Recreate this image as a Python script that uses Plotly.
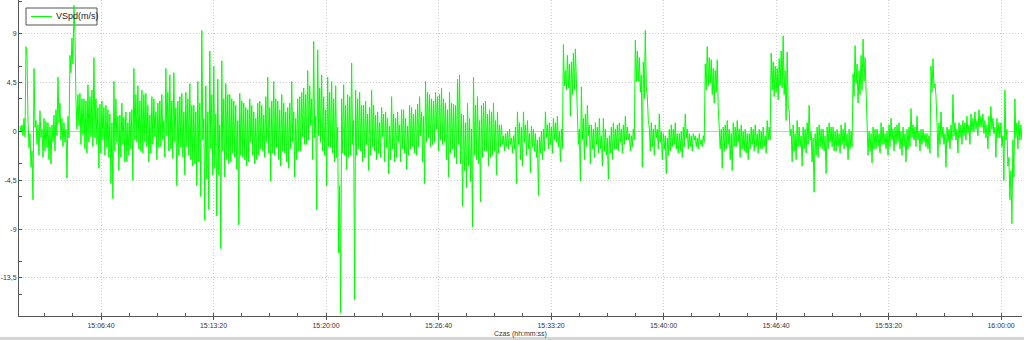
import pandas as pd
import plotly.graph_objects as go

# ---------------- data ----------------
# The trace is very dense, so for every ~2 px column of the original chart the
# local upper (hi) and lower (lo) excursion of the signal is recorded.
t_start = "2024-01-01 15:01:52"
t_end = "2024-01-01 16:01:14"

hi_a = [0.5, 0.6, 1.2, 7.8, 1.0, -0.2, -1.8, 5.8, 1.0, 0.6, 1.9, 0.2, 1.2, 0.9, 0.8, 0.4, 0.6,
        1.5, 2.0, 5.0, 2.6, 1.2, 0.8, 0.2, 1.4, 7.0, 8.6, 11.6, 3.0,
        3.4, 3.5, 3.0, 3.0, 2.8, 4.3, 3.2, 3.8, 6.8, 3.0,
        2.2, 2.5, 2.8, 2.2, 2.4, 2.0, 1.6, 0.8, 4.6, 3.0,
        1.4, 1.5, 2.6, 1.3, 1.8, 0.8, 1.8, 2.0, 5.8, 3.4,
        4.2, 2.8, 3.8, 3.4, 3.5, 2.4, 1.5, 3.2, 3.0, 1.8,
        2.6, 2.8, 3.4, 1.0, 5.8, 3.6, 5.2, 2.8, 5.4, 2.2,
        2.8, 3.2, 3.5, 1.8, 3.6, 3.0, 4.4, 2.4, 2.4, 1.8,
        4.6, 2.6, 9.3, 1.2, 4.2, 1.8, 7.4, 3.4, 6.0, 1.6,
        4.8, 0.6, 6.5, 3.0, 4.4, 3.4, 3.4, 3.0, 2.8, 2.4,
        1.0, 3.5, 2.8, 2.6, 2.2, 2.0, 3.0, 2.4, 1.8, 1.2,
        2.6, 2.8, 2.4, 1.5, 3.2, 5.0, 2.2]
lo_a = [0, -0.4, -0.5, 6.9, -1.5, -3.3, -6.3, 0.4, -1.2, -2.2, -0.6, -2.4, -1.8, -1.5, -2.6,
        -3.0, -1.0, -1.8, -0.4, 0.8, -0.8, -1.4, -1.0, -4.3, -0.6, 5.4, 6.2, 9.0, 0.2,
        0.5, -1.2, -0.3, -1.6, -2.0, -1.0, -0.5, -1.4, -0.6, -1.2,
        -3.4, -2.0, -0.8, -2.2, -1.5, -2.4, -4.8, -6.2, -1.8, -1.0,
        -3.6, -2.4, -1.2, -2.8, -2.8, -2.2, -1.6, -4.5, -0.8, -1.0,
        -1.6, -1.8, -2.0, -1.0, -1.4, -2.8, -2.0, -1.2, -0.5, -2.6,
        -1.5, -1.4, -0.8, -2.4, -0.4, -1.8, -1.6, -2.5, -1.0, -5.0,
        -2.2, -1.5, -2.4, -4.0, -1.4, -2.2, -2.6, -3.2, -3.0, -5.0,
        -2.8, -6.0, -0.8, -8.2, -4.4, -7.2, -1.6, -4.0, -3.4, -7.8,
        -4.0, -10.8, -1.8, -4.2, -2.6, -3.0, -2.8, -2.0, -2.4, -3.5,
        -8.6, -2.2, -2.4, -2.6, -3.2, -2.8, -1.0, -2.2, -3.0, -2.6,
        -2.2, -1.6, -1.8, -2.4, -1.0, -2.0, -4.6]

hi_b = [2.8, 4.6, 3.0, 2.8, 2.0, 3.4, 2.6, 1.8, 2.2, 2.6,
        4.6, 1.8, 1.2, 3.0, 3.2, 3.6, 4.0, 3.4, 5.6, 4.2,
        3.0, 8.3, 1.4, 7.5, 4.0, 5.2, 3.2, 2.0, 5.0, 3.6,
        4.6, 3.0, 4.2, 0.4, -5.0, 3.0, 4.3, 2.4, 3.4, 3.2,
        6.3, 1.0, 3.8, 3.0, 3.6, 2.4, 2.4, 2.8, 1.6, 2.2,
        3.8, 2.4, 1.5, 1.8, 0.8, 2.2, 1.6, 1.8, 1.2, 0.5,
        3.2, 1.6, 1.2, 1.8, 0.6, 2.0, 2.0, 1.2, 0.5, 2.4,
        2.2, 1.6, 2.0, 2.5, 3.2, 1.8, 1.4, 4.6, 3.6, 3.4,
        3.0, 2.8, 3.6, 3.2, 3.4, 4.0, 3.0, 2.6, 2.0, 3.6,
        2.6, 2.5, 2.4, 4.8, 5.2, 1.6, 1.5, 0.8, 2.6, 1.2,
        0.2, 5.0, 2.4, 3.2, 1.0, 2.4, 2.6, 2.8, 1.6, 2.0,
        1.8, 2.6, 1.0, 1.8,
        0.6, 0.6, -0.4, -0.2, 0.0, 0.2, -0.6, -0.4, 0.4, 1.8, 0.8]
lo_b = [-2.0, -2.2, -1.5, -2.6, -3.2, -1.8, -2.0, -2.8, -3.4, -1.6,
        -1.0, -4.2, -2.6, -1.8, -1.8, -0.5, -1.2, -1.2, -0.8, 0.5,
        -2.6, -0.6, -7.2, -0.4, -1.0, -1.8, -2.2, -5.0, -1.4, -1.5,
        -2.0, -2.8, -2.4, -11.2, -16.7, -2.0, -2.2, -3.5, -2.4, -2.2,
        -1.2, -15.5, -2.2, -1.6, -1.8, -2.8, -2.4, -1.2, -3.6, -2.2,
        -1.4, -1.8, -2.6, -2.0, -2.4, -0.5, -2.8, -1.5, -3.9, -2.6,
        -1.6, -2.8, -2.4, -1.0, -2.8, -1.6, -2.0, -3.5, -2.2, -1.6,
        -1.4, -2.0, -2.2, -1.4, -0.4, -2.8, -4.8, -1.0, -0.6, -1.4,
        -1.2, -1.0, 0.2, -1.8, -0.8, -1.2, -1.0, -2.6, -4.2, -2.0,
        -1.6, -2.4, -3.0, -1.2, -3.0, -6.9, -3.6, -5.2, -3.2, -4.6,
        -8.8, -2.2, -2.6, -3.0, -6.5, -2.4, -1.8, -1.8, -3.2, -2.4,
        -2.2, -1.8, -4.0, -2.0,
        -1.4, -1.2, -1.8, -1.4, -1.6, -1.2, -2.0, -1.6, -4.8, -1.2, -2.6]

hi_c = [0.4, 1.8, 0.6, 1.0, -0.2, 0.5, 0.2, -0.2, -0.8, -0.5, 0.0, 0.2, 1.8, 0.6, 0.8, 0.4,
        1.2, 0.8, 1.4, 0.0, 0.2, 8.0, 5.6, 7.0, 6.2, 6.4, 7.2, 7.6, 1.6, 0.2, 4.1, 1.2, 1.6,
        2.4, 0.6, 0.6, 0.2, 0.8, 0.4, 1.2, -0.4, 1.2, 0.2, -0.6, -0.4, 0.4, 0.8, 0.2, 0.6, 0.8,
        0.2, 0.6, 1.4, 0.4, -0.2, -0.4, 0.2, 8.4, 7.4, 6.8, 5.2, 6.4, 9.3, 3.2, 0.4, 0.8, 0.2,
        0.6, 0.2, 1.6, 0.0, -0.2, -0.4, -0.6, 0.2, 0.6, 0.2, 0.8, -0.2, -0.2, 0.0, 0.4, 1.6,
        0.2, -0.2, -0.4, -0.2, -0.4, -0.6, -0.2, -0.8, -0.4, 6.2, 7.8, 6.8, 6.6, 5.8, 5.6, 6.6,
        0.8, 0.2, 0.4, 0.6, 1.0, 0.2, -0.2, 0.8, 0.4, 1.0, 0.2, 0.6, 0.0, 0.2, -0.2, -0.2, 0.4,
        0.2, 0.6, -0.2, 0.2, 0.0, 0.4, -0.4, 1.0, 0.4]
lo_c = [-3.2, -1.0, -2.2, -1.6, -3.8, -1.4, -1.8, -2.4, -5.9, -2.0, -2.6, -1.8, -0.6, -1.6,
        -1.2, -2.0, -0.8, -1.0, -1.4, -2.8, -1.6, 4.2, 3.8, 4.0, 1.4, 3.4, 3.8, 3.2, -1.2, -4.6,
        -0.8, -2.6, -1.4, -0.4, -3.0, -1.6, -2.4, -1.2, -2.0, -1.6, -3.2, -1.8, -2.2, -4.4,
        -2.0, -2.6, -1.6, -1.6, -1.8, -1.0, -2.0, -1.2, -0.8, -0.8, -1.8, -1.4, -0.8, 4.6, 4.6,
        3.6, -3.3, 3.0, 4.2, 1.0, -1.8, -1.4, -2.2, -0.6, -1.6, -1.0, -2.6, -1.6, -3.9, -2.2,
        -1.8, -1.4, -1.2, -1.6, -2.0, -1.8, -2.4, -1.4, -0.6, -1.6, -1.4, -1.8, -0.8, -1.4,
        -1.6, -1.2, -1.4, -1.0, 3.8, 4.2, 4.4, 3.4, 2.6, 3.6, 2.2, -1.6, -3.4, -1.8, -1.6,
        -1.2, -2.6, -3.6, -1.4, -1.4, -1.0, -2.4, -1.6, -1.8, -2.0, -2.6, -1.6, -1.2, -1.8,
        -1.4, -2.0, -1.6, -1.6, -1.4, -2.0, -0.8, -0.8]

hi_d = [7.2, 6.4, 6.0, 5.8, 6.7, 7.4, 8.8, 5.6, 7.3, 2.0, 0.2, 0.6, -0.2, 1.0, 0.4, -0.4, 0.4,
        0.2, 0.8, 2.4, 0.0, -0.6, -0.2, 0.4, 0.6, 0.2, 0.2, -0.4, 0.4, 0.8, 0.4, 0.4, 0.0, 0.2,
        -0.2, 0.6, 0.2, 0.8, -0.2, 0.2, 0.0, 5.3, 7.9, 6.2, 5.6, 7.0, 8.5, 6.8, 0.6, 0.0, -0.2,
        0.4, 0.2, 0.2, -0.2, 0.8, 0.4, -0.2, 0.0, 0.6, 1.2, 0.2, 0.4, 0.6, 0.8, 0.0, 0.4, -0.2,
        0.2, 0.4, 2.1, 0.6, 0.4, 1.4, 0.0, 0.2, 0.2, -0.2, -0.2, -0.4, 6.0, 6.7, 4.4, 0.8, 0.8,
        1.8, 0.4, -0.2, 0.4, 0.2, 0.6, 3.4, 0.8, 0.2, 0.8, 0.6, 1.0, 0.8, 1.4, 0.6, 1.6, 1.2,
        1.8, 1.0, 2.0, 1.4, 1.6, 1.0, 0.6, 1.4, 2.3, 1.2, 0.4, 1.2, 0.8, 0.8, -0.4, 3.8, 0.2,
        -2.4, -3.6, -0.8, 3.0, 0.8, 1.0, 0.6]
lo_d = [3.8, 3.2, 3.6, 2.9, 4.2, 4.0, 3.4, 1.0, 2.4, -0.4, -2.8, -1.8, -2.6, -1.4, -1.4, -3.2,
        -1.6, -2.0, -1.2, -0.8, -2.8, -5.6, -2.2, -2.4, -1.4, -1.6, -1.8, -3.9, -1.6, -1.0,
        -1.4, -1.8, -1.8, -1.4, -2.0, -1.2, -1.6, -1.4, -2.6, -1.6, -1.4, 3.2, 4.4, 2.6, 3.4,
        3.8, 4.6, 4.0, -2.2, -1.8, -2.9, -1.6, -1.6, -1.4, -2.0, -1.2, -1.2, -1.6, -2.2, -1.4,
        -0.8, -1.8, -1.2, -1.0, -1.6, -2.2, -1.4, -2.8, -1.6, -1.4, -0.6, -0.8, -1.4, -0.8,
        -1.8, -1.2, -1.0, -1.4, -1.6, -2.0, 3.6, 4.0, 3.3, -2.4, -1.2, -0.6, -1.2, -3.3, -1.0,
        -1.6, -0.8, -0.4, -0.8, -2.0, -0.6, -1.2, -0.4, -0.8, -0.2, -1.2, 0.0, 0.0, 0.2, -0.4,
        0.4, 0.4, -0.2, -0.6, -1.6, -0.4, 0.2, -0.2, -2.4, -0.6, -0.6, -1.4, -4.5, -0.8, -3.2,
        -6.3, -8.5, -4.2, -0.6, -1.6, -0.8, -0.8]

# the line visits each column's upper then lower excursion
vspd = []
for hi, lo in ((hi_a, lo_a), (hi_b, lo_b), (hi_c, lo_c), (hi_d, lo_d)):
    for h, l in zip(hi, lo):
        vspd.extend([h, l])

series_name = "VSpd(m/s)"
y_tickvals = [9, 4.5, 0, -4.5, -9, -13.5]
y_ticktext = ["9", "4,5", "0", "-4,5", "-9", "-13,5"]
y_minor = [12, 6, 3, -3, -6, -12, -15]
x_tickvals = ["2024-01-01 15:06:40", "2024-01-01 15:13:20", "2024-01-01 15:20:00",
              "2024-01-01 15:26:40", "2024-01-01 15:33:20", "2024-01-01 15:40:00",
              "2024-01-01 15:46:40", "2024-01-01 15:53:20", "2024-01-01 16:00:00"]
x_ticktext = ["15:06:40", "15:13:20", "15:20:00", "15:26:40", "15:33:20",
              "15:40:00", "15:46:40", "15:53:20", "16:00:00"]

times = pd.date_range(t_start, t_end, periods=len(vspd))

# ---------------- figure ----------------
GREEN = "#00ff00"
fig = go.Figure()
fig.add_trace(go.Scatter(x=times, y=vspd, mode="lines", name=series_name,
                         line=dict(color=GREEN, width=1), showlegend=False))

tick_font = dict(family="Liberation Sans, Arial, sans-serif", size=7, color="#333333")
grid_dash = "1px,2px"

# plot area: 1003 x 316 px (margins l=19, r=2, t=0, b=24)
PW, PH = 1003.0, 316.0
def px_x(x):
    return (x - 19) / PW
def px_y(y):
    return (PH - y) / PH

fig.update_layout(
    width=1024, height=340,
    margin=dict(l=19, r=2, t=0, b=24),
    plot_bgcolor="white", paper_bgcolor="white",
    showlegend=False,
    xaxis=dict(range=["2024-01-01 15:01:48.4", "2024-01-01 16:01:14.4"],
               tickmode="array", tickvals=x_tickvals, ticktext=x_ticktext,
               tickfont=tick_font, ticks="outside", ticklen=3, tickcolor="#555555",
               showline=True, linecolor="#555555", linewidth=1,
               showgrid=True, gridcolor="#cfcfcf", griddash=grid_dash, gridwidth=1,
               zeroline=False,
               minor=dict(dtick=100000, ticks="inside", ticklen=3, tickcolor="#555555",
                          showgrid=False),
               title=dict(text="Czas (hh:mm:ss)", standoff=2,
                          font=dict(family="Liberation Sans, Arial, sans-serif", size=7,
                                    color="#333333"))),
    yaxis=dict(range=[-17.0, 12.1],
               tickmode="array", tickvals=y_tickvals, ticktext=y_ticktext,
               tickfont=tick_font, ticks="inside", ticklen=3, tickcolor="#555555",
               showline=True, linecolor="#555555", linewidth=1,
               showgrid=True, gridcolor="#cfcfcf", griddash=grid_dash, gridwidth=1,
               zeroline=True, zerolinecolor="#c8c8c8", zerolinewidth=1,
               minor=dict(tickvals=y_minor, ticks="inside", ticklen=3, tickcolor="#555555",
                          showgrid=False)),
    shapes=[
        # window bottom strip
        dict(type="rect", xref="paper", yref="paper",
             x0=-0.02, x1=1.01, y0=px_y(337), y1=px_y(341),
             fillcolor="#d4d4d4", line=dict(width=0), layer="below"),
        # legend box
        dict(type="rect", xref="paper", yref="paper",
             x0=px_x(26), x1=px_x(97), y0=px_y(25), y1=px_y(8),
             fillcolor="white", line=dict(color="#555555", width=1), layer="below"),
        # legend line sample
        dict(type="line", xref="paper", yref="paper",
             x0=px_x(31), x1=px_x(52), y0=px_y(16.5), y1=px_y(16.5),
             line=dict(color=GREEN, width=1)),
    ],
    annotations=[
        dict(text=series_name, xref="paper", yref="paper",
             x=px_x(54), y=px_y(16.5), xanchor="left", yanchor="middle",
             showarrow=False,
             font=dict(family="Liberation Sans, Arial, sans-serif", size=9, color="#222222")),
    ],
)

fig.write_html("out.html")
